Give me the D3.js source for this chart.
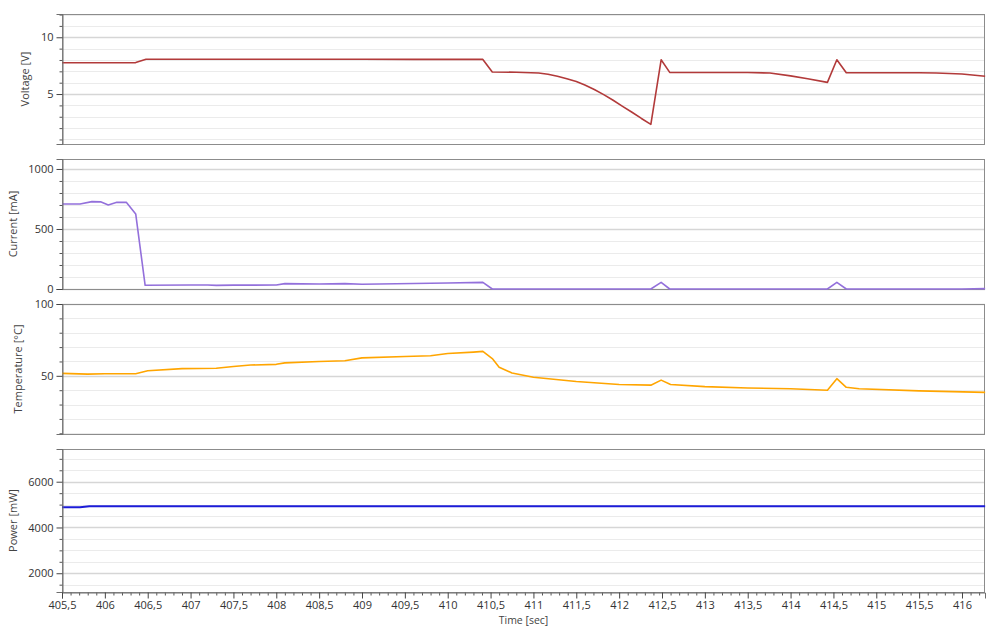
<!DOCTYPE html>
<html><head><meta charset="utf-8">
<script src="https://cdn.jsdelivr.net/npm/d3@7"></script>
<style>
body{margin:0;background:#fff;}
svg{display:block;font-family:"Open Sans","Noto Sans",sans-serif;}
</style></head>
<body><svg id="c" width="998" height="626"></svg>
<script>
// ---- data ----
const voltageT = [405.5,405.71,406.0,406.25,406.36,406.48,407.0,408.0,409.0,409.6,410.0,410.41,410.52,410.8,411.06,411.17,411.28,411.39,411.5,411.6,411.71,411.82,411.93,412.04,412.15,412.26,412.37,412.49,412.59,413.0,413.5,413.76,414.0,414.2,414.43,414.54,414.65,415.0,415.5,415.7,416.0,416.27];
const voltageV = [7.76,7.76,7.76,7.76,7.77,8.06,8.07,8.06,8.07,8.05,8.05,8.05,6.94,6.92,6.85,6.75,6.57,6.35,6.1,5.8,5.4,4.95,4.45,3.92,3.4,2.85,2.33,8.02,6.91,6.9,6.9,6.85,6.6,6.35,6.03,8.02,6.88,6.88,6.88,6.86,6.76,6.57];
const currentT = [405.5,405.71,405.85,405.95,406.04,406.14,406.25,406.36,406.47,407.0,407.2,407.3,407.5,408.0,408.1,408.5,408.8,409.0,409.6,410.0,410.41,410.52,412.37,412.49,412.59,414.43,414.54,414.65,416.0,416.27];
const currentV = [708,708,728,726,700,722,722,625,31,33,33,30,32,33,45,42,45,40,46,50,55,0,0,55,0,0,55,0,0,3];
const tempT = [405.5,405.8,406.0,406.36,406.5,406.9,407.3,407.5,407.7,408.0,408.1,408.5,408.8,409.0,409.5,409.8,410.0,410.3,410.41,410.52,410.6,410.75,411.0,411.5,412.0,412.37,412.49,412.6,413.0,413.5,414.0,414.43,414.54,414.65,414.8,415.5,416.27];
const tempV = [51.7,51.2,51.4,51.4,53.5,55,55.3,56.5,57.5,58,59,60,60.5,62.5,63.5,64,65.5,66.5,67,62,56,52,49,46,44,43.5,47,44,42.5,41.5,41,40,48,42,41,39.5,38.5];
const powerT = [405.5,405.71,405.82,416.27];
const powerV = [4886,4886,4930,4930];
const xTicks = ["405,5","406","406,5","407","407,5","408","408,5","409","409,5","410","410,5","411","411,5","412","412,5","413","413,5","414","414,5","415","415,5","416"];

const panels = [
  {name:"Voltage [V]", t:voltageT, v:voltageV, color:"#b23a3a", width:1.6, top:14, bottom:144, domain:[0.6,12.05], minor:1, major:5, labelX:24},
  {name:"Current [mA]", t:currentT, v:currentV, color:"#9370db", width:1.6, top:159, bottom:289, domain:[0,1083], minor:100, major:500, labelX:12},
  {name:"Temperature [°C]", t:tempT, v:tempV, color:"#ffa500", width:1.6, top:304, bottom:434, domain:[9.5,100], minor:10, major:50, labelX:17},
  {name:"Power [mW]", t:powerT, v:powerV, color:"#1c1cd8", width:2, top:449, bottom:592, domain:[1180,7430], minor:500, major:2000, labelX:12}
];

const svg = d3.select("#c");
const L = 62, R = 985;
const FONT = '"Open Sans","Noto Sans",sans-serif';
const x = d3.scaleLinear().domain([405.5, 405.5 + (R-L)/85.714]).range([L,R]);
const fmt = v => String(v).replace(".", ",");

panels.forEach(p => {
  const y = d3.scaleLinear().domain(p.domain).range([p.bottom, p.top]);
  const g = svg.append("g");
  const minorVals = d3.range(Math.ceil(p.domain[0]/p.minor)*p.minor, p.domain[1]+1e-9, p.minor).map(v=>+v.toFixed(6));
  const isMajor = v => Math.abs(v/p.major - Math.round(v/p.major)) < 1e-6;
  g.selectAll("line.grid").data(minorVals).join("line")
    .attr("x1", L).attr("x2", R)
    .attr("y1", d=>Math.round(y(d))+0.5).attr("y2", d=>Math.round(y(d))+0.5)
    .attr("stroke", d=>isMajor(d) ? "#d6d6d6" : "#ebebeb").attr("stroke-width", d=>isMajor(d)?1.5:1.2);
  g.append("rect").attr("x", L+0.5).attr("y", p.top+0.5).attr("width", R-L-1).attr("height", p.bottom-p.top)
    .attr("fill","none").attr("stroke","#8c8c8c").attr("stroke-width",1);
  const line = d3.line().x((d,i)=>x(p.t[i])).y(d=>y(d));
  g.append("path").datum(p.v).attr("d", line).attr("fill","none")
    .attr("stroke", p.color).attr("stroke-width", p.width).attr("stroke-linejoin","round");
  const axMinor = d3.axisLeft(y).tickValues(minorVals.filter(v=>!isMajor(v))).tickSize(3).tickFormat("");
  const axMajor = d3.axisLeft(y).tickValues(minorVals.filter(isMajor)).tickSize(6).tickPadding(3).tickFormat(fmt);
  const ga = g.append("g").attr("transform", `translate(${L+0.5},0)`).call(axMinor);
  ga.select(".domain").remove();
  ga.selectAll("line").attr("stroke","#555");
  const gb = g.append("g").attr("transform", `translate(${L+0.5},0)`).call(axMajor);
  gb.select(".domain").attr("stroke","#6e6e6e");
  gb.selectAll("line").attr("stroke","#444");
  gb.selectAll("text").attr("fill","#333").style("font-size","11px").style("font-family",FONT);
  svg.append("text").attr("transform", `translate(${p.labelX},${(p.top+p.bottom)/2}) rotate(-90)`)
    .attr("text-anchor","middle").attr("dominant-baseline","central")
    .attr("fill","#444").style("font-size","11px").text(p.name);
});

const xb = panels[3].bottom;
const majorX = xTicks.map((s,i)=>405.5+i*0.5);
const minorX = d3.range(0,108).map(i=>+(405.5+i*0.1).toFixed(2)).filter(v=>v<=x.domain()[1] && Math.abs(v*2-Math.round(v*2))>1e-6);
const gxm = svg.append("g").attr("transform",`translate(0,${xb+0.5})`).call(d3.axisBottom(x).tickValues(minorX).tickSize(3).tickFormat(""));
gxm.select(".domain").remove(); gxm.selectAll("line").attr("stroke","#555");
const gx = svg.append("g").attr("transform",`translate(0,${xb+0.5})`).call(d3.axisBottom(x).tickValues(majorX).tickSize(6).tickPadding(3).tickFormat((d,i)=>xTicks[i]));
gx.select(".domain").attr("stroke","#6e6e6e");
gx.selectAll("line").attr("stroke","#444");
gx.selectAll("text").attr("fill","#333").style("font-size","11px").style("font-family",FONT);
svg.append("text").attr("x",(L+R)/2).attr("y",624).attr("text-anchor","middle").attr("fill","#444").style("font-size","10.5px").text("Time [sec]");
</script></body></html>
